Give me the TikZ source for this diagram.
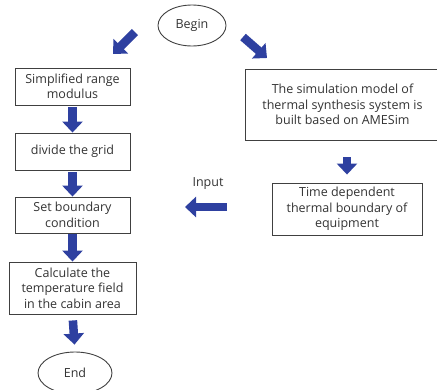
\documentclass[tikz,border=0pt]{standalone}
\usepackage{fontspec}
\setmainfont{Open Sans}
\usepackage{tikz}
\usetikzlibrary{shapes.geometric,arrows.meta}

\definecolor{arrowblue}{RGB}{46,64,160}
\definecolor{boxgray}{RGB}{64,64,64}

\tikzset{
	stepbox/.style={draw=boxgray, line width=0.9pt, rectangle, align=center, inner sep=0pt,
		font=\fontsize{12.5}{15.5}\selectfont, text=black!80},
	termbox/.style={draw=boxgray, line width=0.9pt, ellipse, inner sep=0pt,
		font=\fontsize{12.5}{15.5}\selectfont, text=black!80},
	bigarrow/.style={arrowblue, line width=8.5pt, -{Triangle[length=11pt,width=20pt]}}
}

\begin{document}
\begin{tikzpicture}[x=1pt, y=-1pt]
	\useasboundingbox (0,0) rectangle (437,389);
	\clip (0,0) rectangle (437,389);

% begin and end
	\node[termbox, minimum width=68pt, minimum height=41pt] (begin) at (192,25.5) {Begin};
	\node[termbox, minimum width=74pt, minimum height=42pt] (end) at (75,373) {End};

% left column
	\node[stepbox, minimum width=115pt, minimum height=37pt] (range) at (72.5,86.5) {Simplified range\\modulus};
	\node[stepbox, minimum width=115pt, minimum height=37pt] (grid) at (72.5,151.5) {divide the grid};
	\node[stepbox, minimum width=115pt, minimum height=36pt] (bound) at (72.5,215) {Set boundary\\condition};
	\node[stepbox, minimum width=127pt, minimum height=52pt] (calc) at (72.5,288) {Calculate the\\temperature field\\in the cabin area};

% right column
	\node[stepbox, minimum width=195pt, minimum height=71pt] (model) at (342.5,104.5) {The simulation model of\\thermal synthesis system is\\built based on AMESim};
	\node[stepbox, minimum width=150pt, minimum height=52pt] (thermal) at (347,209) {Time dependent\\thermal boundary of\\equipment};

	\node[font=\fontsize{12.5}{15.5}\selectfont, text=black!80] (input) at (208,184) {Input};

% free arrow ends
	\coordinate (ltail) at (135,32);
	\coordinate (ltip) at (113,54);
	\coordinate (rtail) at (243,37);
	\coordinate (rtip) at (267,58);
	\coordinate (itail) at (227,207);
	\coordinate (itip) at (185,207);

% block arrows
	\draw[bigarrow] (ltail) -- (ltip);
	\draw[bigarrow] (rtail) -- (rtip);
	\draw[bigarrow, shorten <=2pt] (range.south) -- (grid.north);
	\draw[bigarrow, shorten <=2pt] (grid.south) -- (bound.north);
	\draw[bigarrow, shorten <=1pt] (bound.south) -- (calc.north);
	\draw[bigarrow, shorten <=6pt, shorten >=7pt] (calc.south) -- (end.north);
	\draw[bigarrow, shorten <=17pt, shorten >=8pt] (thermal.north |- model.south) -- (thermal.north);
	\draw[bigarrow] (itail) -- (itip);

\end{tikzpicture}
\end{document}
